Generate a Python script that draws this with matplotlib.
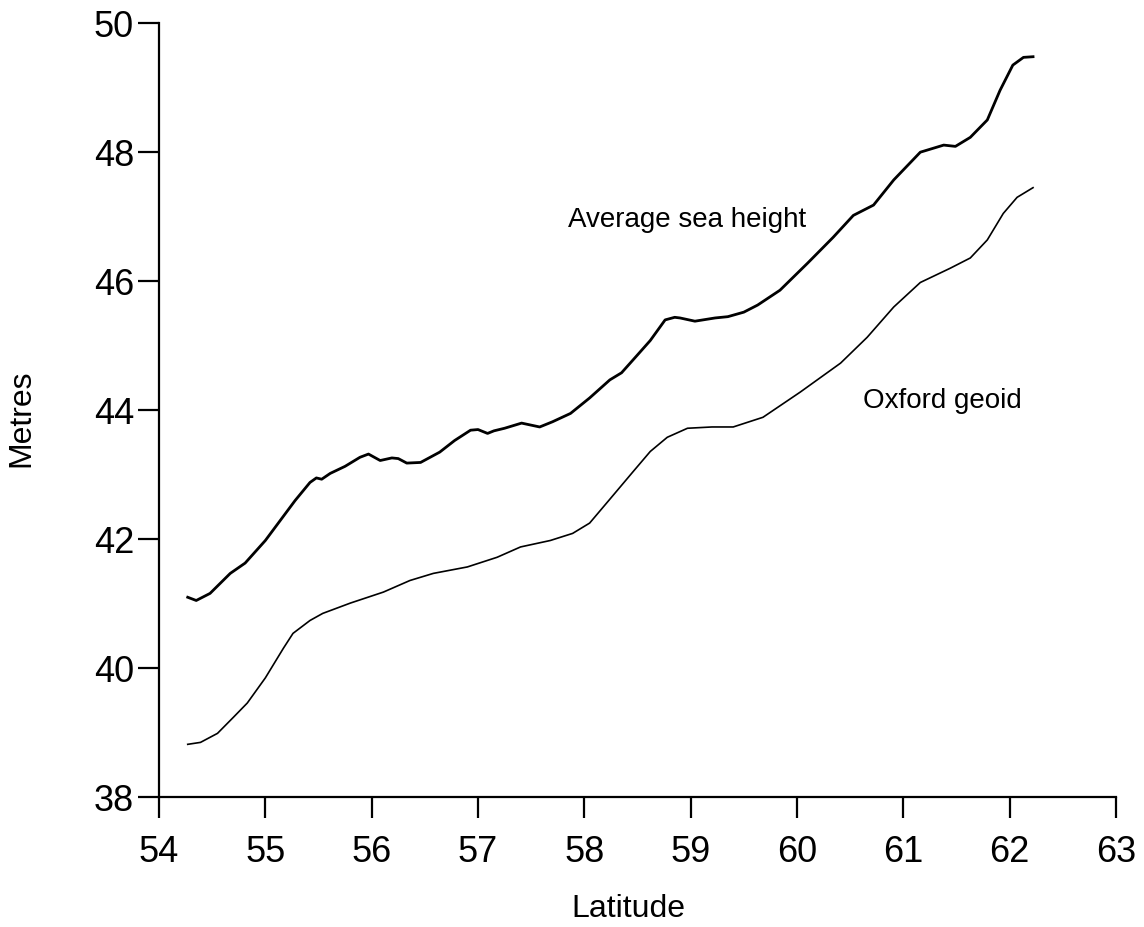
import matplotlib
matplotlib.use('Agg')
import matplotlib.pyplot as plt

plt.rcParams['font.family'] = ['Liberation Sans', 'DejaVu Sans']

# Average sea height (upper curve)
lat_sea = [54.27, 54.35, 54.48, 54.67, 54.81, 55.00, 55.28, 55.42, 55.48, 55.53,
           55.61, 55.75, 55.89, 55.97, 56.08, 56.19, 56.25, 56.33, 56.46, 56.64,
           56.78, 56.93, 57.00, 57.09, 57.15, 57.25, 57.41, 57.58, 57.70, 57.87,
           58.05, 58.24, 58.35, 58.48, 58.62, 58.76, 58.85, 58.90, 59.04, 59.23,
           59.35, 59.50, 59.63, 59.84, 60.10, 60.34, 60.53, 60.72, 60.91, 61.16,
           61.38, 61.49, 61.63, 61.79, 61.91, 62.03, 62.13, 62.22]
sea = [41.10, 41.05, 41.16, 41.47, 41.63, 41.98, 42.60, 42.88, 42.95, 42.93,
       43.02, 43.13, 43.27, 43.32, 43.22, 43.26, 43.25, 43.18, 43.19, 43.35,
       43.53, 43.69, 43.70, 43.64, 43.68, 43.72, 43.80, 43.74, 43.82, 43.95,
       44.19, 44.47, 44.58, 44.82, 45.08, 45.40, 45.44, 45.43, 45.38, 45.43,
       45.45, 45.52, 45.63, 45.86, 46.28, 46.68, 47.02, 47.18, 47.57, 48.00,
       48.11, 48.09, 48.23, 48.50, 48.96, 49.35, 49.47, 49.48]

# Oxford geoid (lower curve)
lat_geoid = [54.27, 54.39, 54.55, 54.70, 54.83, 55.00, 55.17, 55.26, 55.42, 55.54,
             55.80, 56.11, 56.36, 56.58, 56.90, 57.18, 57.40, 57.68, 57.89, 58.05,
             58.24, 58.46, 58.62, 58.78, 58.97, 59.20, 59.40, 59.68, 60.03, 60.41,
             60.66, 60.91, 61.16, 61.44, 61.63, 61.79, 61.94, 62.07, 62.22]
geoid = [38.82, 38.85, 38.99, 39.24, 39.46, 39.85, 40.31, 40.54, 40.74, 40.85,
         41.01, 41.18, 41.36, 41.47, 41.57, 41.72, 41.88, 41.98, 42.09, 42.25,
         42.62, 43.05, 43.36, 43.58, 43.72, 43.74, 43.74, 43.89, 44.28, 44.73,
         45.13, 45.60, 45.98, 46.20, 46.36, 46.64, 47.05, 47.30, 47.45]

fig = plt.figure(figsize=(11.44, 9.27), dpi=100)
ax = fig.add_axes([0.139, 0.140, 0.8365, 0.835])

ax.plot(lat_sea, sea, 'k-', lw=2.0)
ax.plot(lat_geoid, geoid, 'k-', lw=1.2)

ax.set_xlim(54, 63)
ax.set_ylim(38, 50)
ax.set_xticks(range(54, 64))
ax.set_yticks(range(38, 51, 2))

for s in ['top', 'right']:
    ax.spines[s].set_visible(False)
for s in ['left', 'bottom']:
    ax.spines[s].set_linewidth(1.6)

ax.tick_params(axis='both', direction='out', length=15, width=1.6,
               labelsize=26)
ax.tick_params(axis='x', pad=12)
ax.tick_params(axis='y', pad=3)

ax.set_xlabel('Latitude', fontsize=23)
ax.set_ylabel('Metres', fontsize=23)
ax.xaxis.set_label_coords(0.49, -0.125)
ax.yaxis.set_label_coords(-0.128, 0.49)

ax.text(57.85, 46.95, 'Average sea height', fontsize=20, va='center', ha='left')
ax.text(60.62, 44.15, 'Oxford geoid', fontsize=20, va='center', ha='left')

plt.savefig('out.png', dpi=100)
